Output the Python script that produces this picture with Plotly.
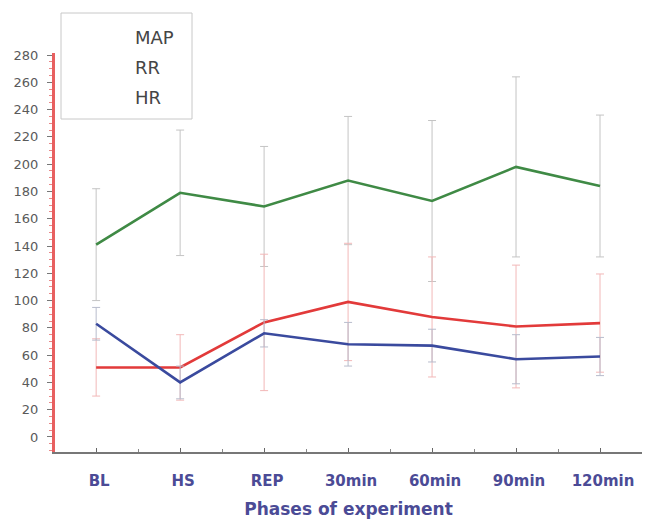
import plotly.graph_objects as go

categories = ["BL", "HS", "REP", "30min", "60min", "90min", "120min"]
series_names = ["MAP", "RR", "HR"]

map_vals = [83, 40, 76, 68, 67, 57, 59]
map_err = [12, 12, 10, 16, 12, 18, 14]

rr_vals = [51, 51, 84, 99, 88, 81, 83.5]
rr_err = [21, 24, 50, 43, 44, 45, 36]

hr_vals = [141, 179, 169, 188, 173, 198, 184]
hr_err = [41, 46, 44, 47, 59, 66, 52]

y_ticks = list(range(0, 281, 20))

x = list(range(len(categories)))

fig = go.Figure()

def add_series(vals, err, color, err_color):
    fig.add_trace(go.Scatter(
        x=x, y=vals, mode="lines",
        line=dict(color=color, width=2.6),
        error_y=dict(type="data", array=err, visible=True,
                     color=err_color, thickness=1, width=4),
        showlegend=False,
    ))

add_series(hr_vals, hr_err, "#3f8a45", "#c4c4c4")
add_series(rr_vals, rr_err, "#e23a3a", "#f2b8b8")
add_series(map_vals, map_err, "#3a4a9e", "#b8bccc")

# page offset (default body margin) compensation
OFF = 8
W, H = 655 - OFF, 522 - OFF
# plot area in screen px: x 55..642, y 53..452
L, R, T, B = 55 - OFF, 642 - OFF, 53 - OFF, 452 - OFF

def px_x(v):
    return (v - OFF - L) / (R - L)

def px_y(v):
    return (B - (v - OFF)) / (B - T)

FONT = "DejaVu Sans, Liberation Sans, Arial, sans-serif"

fig.add_shape(type="rect", xref="paper", yref="paper",
              x0=px_x(61), x1=px_x(192), y0=px_y(119), y1=px_y(13),
              line=dict(color="#c8c8c8", width=1), fillcolor="rgba(0,0,0,0)")
for i, name in enumerate(series_names):
    fig.add_annotation(xref="paper", yref="paper", x=px_x(133), y=px_y(38 + 29.5 * i),
                       text=name, showarrow=False, xanchor="left", yanchor="middle",
                       font=dict(family=FONT, size=18, color="#454545"))

fig.update_layout(
    width=W, height=H,
    margin=dict(l=L, r=W - R, t=T, b=H - B),
    paper_bgcolor="white", plot_bgcolor="white",
    showlegend=False,
    xaxis=dict(
        range=[-0.49, 6.5],
        automargin=False,
        tickmode="array", tickvals=x, ticktext=categories,
        ticks="inside", ticklen=4, tickcolor="#666666",
        minor=dict(tickvals=[i + 0.5 for i in range(-1, 7)], ticks="inside", ticklen=3, tickcolor="#888888"),
        showline=True, linecolor="#777777", linewidth=1.5,
        showgrid=False, zeroline=False,
        ticklabelstandoff=14,
        ticklabelshift=3,
        tickfont=dict(family=FONT, size=15, color="#4b4b96", weight="bold"),
        title=dict(text="<b>Phases of experiment</b>", standoff=14,
                   font=dict(family=FONT, size=17, color="#4b4b96")),
    ),
    yaxis=dict(
        range=[-11, 281.5],
        automargin=False,
        tickmode="array", tickvals=y_ticks,
        ticks="outside", ticklen=5, tickcolor="#777777",
        minor=dict(dtick=5, tick0=0, ticks="outside", ticklen=3, tickcolor="#e88888"),
        showline=True, linecolor="#e86060", linewidth=3,
        showgrid=False, zeroline=False,
        ticklabelstandoff=6,
        tickfont=dict(family=FONT, size=13, color="#5a5a5a"),
    ),
)

fig.write_html("out.html")
